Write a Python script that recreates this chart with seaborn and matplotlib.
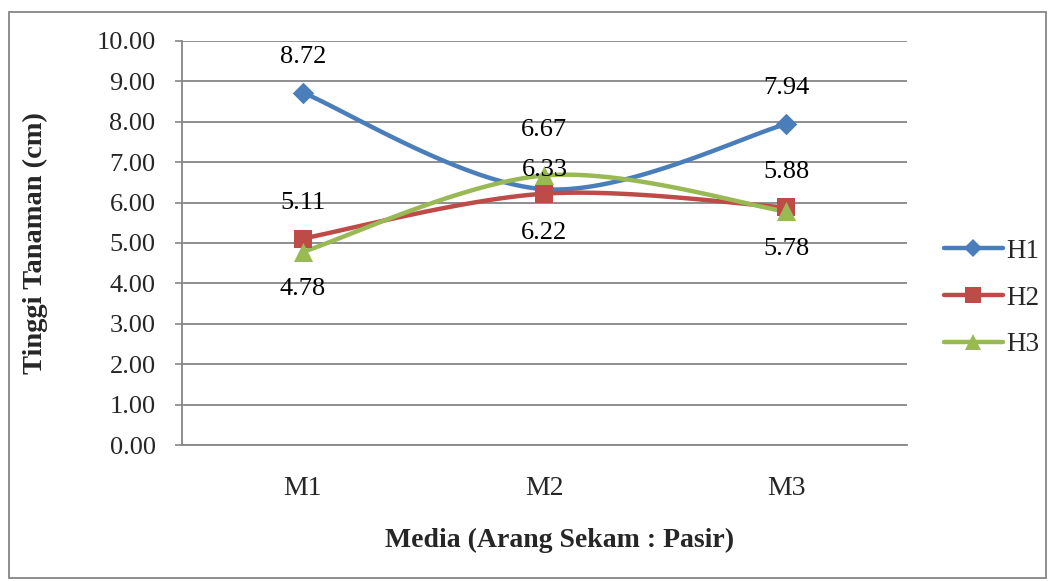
import numpy as np
import pandas as pd
import seaborn as sns
import matplotlib.pyplot as plt
from matplotlib.patches import Rectangle
from matplotlib.lines import Line2D

categories = ["M1", "M2", "M3"]
h1 = [8.72, 6.33, 7.94]
h2 = [5.11, 6.22, 5.88]
h3 = [4.78, 6.67, 5.78]
series_names = ["H1", "H2", "H3"]
y_ticks = [0, 1, 2, 3, 4, 5, 6, 7, 8, 9, 10]

colors = {"H1": "#4A7EBB", "H2": "#BE4B48", "H3": "#98B954"}
markers = {"H1": "D", "H2": "s", "H3": "^"}
marker_sizes = {"H1": 120, "H2": 160, "H3": 190}
# vertical label offsets in pixels (positive = up)
label_offset_px = {"H1": [36, 19, 36], "H2": [36, -39, 35], "H3": [-37, 45, -38]}

sns.set_theme(style="white")
plt.rcParams["font.family"] = ["Liberation Serif", "DejaVu Serif"]

FS = 19
PT = 72 / 100  # points per pixel at dpi 100


def smooth_curve(xs, ys, steps=60):
    """Cubic Bezier smoothing through the points (Catmull-Rom style)."""
    xs = np.asarray(xs, float)
    ys = np.asarray(ys, float)
    px = np.concatenate([[xs[0]], xs, [xs[-1]]])
    py = np.concatenate([[ys[0]], ys, [ys[-1]]])
    out_x, out_y = [], []
    t = np.linspace(0, 1, steps)
    for i in range(1, len(px) - 2):
        p0 = np.array([px[i], py[i]])
        p3 = np.array([px[i + 1], py[i + 1]])
        c1 = p0 + (np.array([px[i + 1], py[i + 1]]) - np.array([px[i - 1], py[i - 1]])) / 6
        c2 = p3 - (np.array([px[i + 2], py[i + 2]]) - np.array([px[i], py[i]])) / 6
        b = ((1 - t) ** 3)[:, None] * p0 + (3 * (1 - t) ** 2 * t)[:, None] * c1 \
            + (3 * (1 - t) * t ** 2)[:, None] * c2 + (t ** 3)[:, None] * p3
        out_x.extend(b[:, 0])
        out_y.extend(b[:, 1])
    return np.array(out_x), np.array(out_y)


fig = plt.figure(figsize=(10.52, 5.81), dpi=100)
ax = fig.add_axes([0.173, 0.234, 0.689, 0.6956])

xpos = np.arange(len(categories)) + 0.5
values = {"H1": h1, "H2": h2, "H3": h3}

for name in series_names:
    sx, sy = smooth_curve(xpos, values[name])
    curve = pd.DataFrame({"x": sx, "y": sy})
    sns.lineplot(data=curve, x="x", y="y", ax=ax, color=colors[name], lw=3.2,
                 sort=False, estimator=None, zorder=3, legend=False)

for name in series_names:
    pts = pd.DataFrame({"x": xpos, "y": values[name]})
    sns.scatterplot(data=pts, x="x", y="y", ax=ax, color=colors[name],
                    marker=markers[name], s=marker_sizes[name], linewidth=0,
                    zorder=4, legend=False)
    for x, v, off in zip(xpos, values[name], label_offset_px[name]):
        ax.annotate(f"{v:.2f}", (x, v), xytext=(0, off * PT), textcoords="offset points",
                    ha="center", va="center", fontsize=FS, color="black", zorder=5)

ax.set_xlim(0, 3)
ax.set_ylim(0, 10)
ax.set_yticks(y_ticks)
ax.set_yticklabels([f"{v:.2f}" for v in y_ticks], fontsize=FS)
ax.set_xticks(xpos)
ax.set_xticklabels(categories, fontsize=FS + 1)
ax.tick_params(axis="x", length=0, pad=22)
ax.tick_params(axis="y", length=5, width=1.2, color="#868686", direction="out", pad=14, left=True)
ax.grid(axis="y", color="#868686", lw=1.3)
ax.set_axisbelow(True)
for side in ["top", "right"]:
    ax.spines[side].set_visible(False)
for side in ["left", "bottom"]:
    ax.spines[side].set_color("#868686")
    ax.spines[side].set_linewidth(1.3)
ax.set_xlabel("")
ax.set_ylabel("")

fig.text(0.034, 0.582, "Tinggi Tanaman (cm)", rotation=90, ha="center", va="center",
         fontsize=20.5, fontweight="bold")
fig.text(0.532, 0.069, "Media (Arang Sekam : Pasir)", ha="center", va="center",
         fontsize=20, fontweight="bold")

handles = [Line2D([0], [0], color=colors[n], lw=3.2, marker=markers[n],
                  markersize={"H1": 9, "H2": 11, "H3": 12}[n], markeredgewidth=0)
           for n in series_names]
fig.legend(handles, series_names, loc="center left", bbox_to_anchor=(0.897, 0.487),
           frameon=False, fontsize=FS + 0.5, handlelength=2.2, handletextpad=0.1,
           labelspacing=0.8, borderaxespad=0, borderpad=0)

fig.patches.append(Rectangle((9 / 1052, 3 / 581), 1037 / 1052, 566 / 581,
                             transform=fig.transFigure, fill=False,
                             edgecolor="#868686", lw=1.3))

fig.savefig("out.png", dpi=100, facecolor="white")
